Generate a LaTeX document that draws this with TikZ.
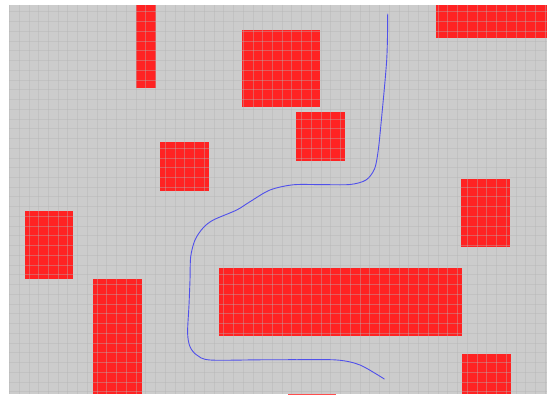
\documentclass[tikz,border=0pt]{standalone}
\definecolor{bgc}{RGB}{204,204,204}
\definecolor{obst}{RGB}{255,34,34}
\definecolor{gridc}{RGB}{180,180,180}
\definecolor{pathc}{RGB}{80,80,235}
\begin{document}
\begin{tikzpicture}[x=1pt,y=-1pt,
  obstacle/.style={fill=obst,draw=none},
  gridline/.style={draw=gridc,line width=0.55pt,opacity=0.4},
  route/.style={draw=pathc,line width=0.9pt,line cap=round,line join=round}]
\useasboundingbox (0,0) rectangle (547,396);
\fill[white] (0,0) rectangle (547,396);
\fill[bgc] (9,5) rectangle (547,394.3);
% obstacles
\fill[obstacle] (136,5) rectangle (155.5,88.5);
\fill[obstacle] (436,5) rectangle (547,38.5);
\fill[obstacle] (242,30) rectangle (320,107.3);
\fill[obstacle] (296,112.3) rectangle (344.7,160.7);
\fill[obstacle] (160,142.3) rectangle (209,191);
\fill[obstacle] (25,211) rectangle (73.3,279);
\fill[obstacle] (461.3,179.3) rectangle (510,247.3);
\fill[obstacle] (93.3,278.7) rectangle (141.7,394.3);
\fill[obstacle] (219.3,267.7) rectangle (462,336);
\fill[obstacle] (462,354) rectangle (510.7,394.3);
% grid
\begin{scope}
\clip (9,5) rectangle (547,394.3);
\foreach \i in {0,...,56}{
  \pgfmathsetmacro\xx{9.3+\i*9.74}
  \draw[gridline] (\xx,5) -- (\xx,394.3);
}
\foreach \i in {0,...,40}{
  \pgfmathsetmacro\yy{1.96+\i*9.74}
  \draw[gridline] (9,\yy) -- (547,\yy);
}
\end{scope}
\fill[obstacle,opacity=0.8] (287.5,393.6) rectangle (335.7,395.2);
% route
\draw[route] plot[smooth,tension=0.5] coordinates {
 (387.7,14) (386.7,60) (380.7,127) (378,152) (374.5,169) (366,180) (350,184.5)
 (320,184.6) (293,184.8) (270,190) (250,201.7) (236.7,210) (213.3,220) (203,228)
 (195,240) (190.7,256.7) (190,280) (189,305) (187.6,333) (190,346.7) (196.7,355)
 (210,360) (260,359.8) (297,359.7) (337,360) (360,365) (384.3,379)};
\end{tikzpicture}
\end{document}
